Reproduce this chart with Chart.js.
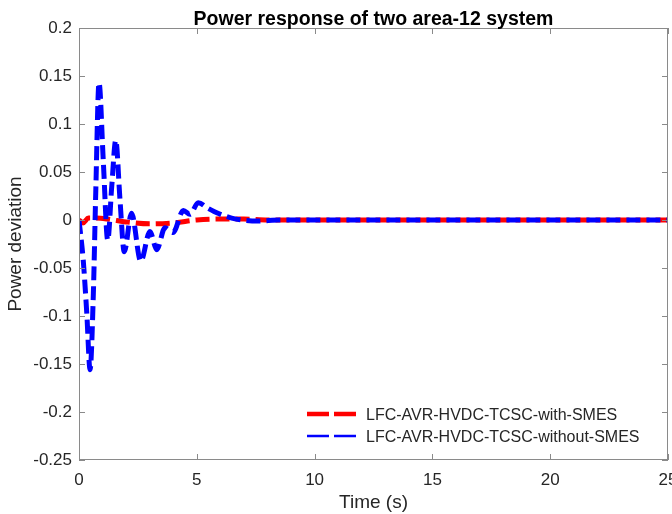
<!DOCTYPE html>
<html>
<head>
<meta charset="utf-8">
<script src="https://cdn.jsdelivr.net/npm/chart.js@4/dist/chart.umd.min.js"></script>
<style>
  html, body { margin: 0; padding: 0; background: #fff; }
  #wrap { width: 672px; height: 514px; }
</style>
</head>
<body>
<div id="wrap"><canvas id="chart" width="672" height="514"></canvas></div>
<script>
// values
const chartTitle = "Power response of two area-12 system";
const seriesNames = ["LFC-AVR-HVDC-TCSC-with-SMES", "LFC-AVR-HVDC-TCSC-without-SMES"];

const redTime   = [0, 0.17, 0.4, 0.7, 1.2, 2.0, 3.0, 4.0, 5.0, 6.0, 7.0, 8.0, 10, 15, 20, 25];
const redValues = [0, -0.003, 0.002, 0.002, 0.001, -0.002, -0.004, -0.003, 0, 0.001, 0.001, 0, 0, 0, 0, 0];

const blueTime   = [0, 0.18, 0.33, 0.47, 0.61, 0.71, 0.85, 1.03, 1.22, 1.39, 1.56, 1.74, 1.92, 2.23, 2.62, 3.01, 3.3, 3.65, 3.99, 4.43, 4.71, 5.06, 5.49, 5.9, 6.48, 7.6, 8.5, 10, 15, 20, 25];
const blueValues = [0, -0.042, -0.097, -0.156, -0.076, 0.028, 0.143, 0.062, -0.021, 0.035, 0.083, 0.021, -0.033, 0.007, -0.043, -0.012, -0.031, -0.008, -0.013, 0.010, 0.006, 0.018, 0.012, 0.007, 0.002, -0.001, 0, 0, 0, 0, 0];

const xTicks = [0, 5, 10, 15, 20, 25];
const yTicks = [-0.25, -0.2, -0.15, -0.1, -0.05, 0, 0.05, 0.1, 0.15, 0.2];

const FONT = "'Liberation Sans', Arial, sans-serif";
const AXIS_COLOR = "#8a8a8a";
const TEXT_COLOR = "#262626";

const pts = (xs, ys) => xs.map((x, i) => ({ x: x, y: ys[i] }));

// box, inside ticks, title and legend (MATLAB look)
const matlabFrame = {
  id: "matlabFrame",
  afterDraw(chart) {
    const { ctx, chartArea: a, scales: { x, y } } = chart;
    ctx.save();
    ctx.strokeStyle = AXIS_COLOR;
    ctx.lineWidth = 1;
    ctx.strokeRect(a.left + 0.5, a.top + 0.5, a.right - a.left - 1, a.bottom - a.top - 1);
    ctx.beginPath();
    xTicks.forEach(v => {
      const px = Math.round(x.getPixelForValue(v)) + 0.5;
      ctx.moveTo(px, a.bottom); ctx.lineTo(px, a.bottom - 6);
      ctx.moveTo(px, a.top); ctx.lineTo(px, a.top + 6);
    });
    yTicks.forEach(v => {
      const py = Math.round(y.getPixelForValue(v)) + 0.5;
      ctx.moveTo(a.left, py); ctx.lineTo(a.left + 6, py);
      ctx.moveTo(a.right, py); ctx.lineTo(a.right - 6, py);
    });
    ctx.stroke();

    // title
    ctx.fillStyle = "#000";
    ctx.font = "bold 19.5px " + FONT;
    ctx.textAlign = "center";
    ctx.textBaseline = "alphabetic";
    ctx.fillText(chartTitle, (a.left + a.right) / 2, 25);

    // legend, bottom right inside the axes
    const rows = [{ y: 414, w: 4.5 }, { y: 436, w: 2.5 }];
    ctx.font = "16px " + FONT;
    ctx.textAlign = "left";
    ctx.textBaseline = "middle";
    chart.data.datasets.forEach((ds, i) => {
      const r = rows[i];
      ctx.strokeStyle = ds.borderColor;
      ctx.lineWidth = r.w;
      ctx.setLineDash([]);
      ctx.beginPath();
      ctx.moveTo(307, r.y); ctx.lineTo(329, r.y);
      ctx.moveTo(334, r.y); ctx.lineTo(356, r.y);
      ctx.stroke();
      ctx.fillStyle = TEXT_COLOR;
      ctx.fillText(ds.label, 366, r.y + 1.5);
    });
    ctx.restore();
  }
};

new Chart(document.getElementById("chart"), {
  type: "line",
  data: {
    datasets: [
      {
        label: seriesNames[0],
        data: pts(redTime, redValues),
        borderColor: "#ff0000",
        borderWidth: 5,
        borderDash: [14, 6],
        pointRadius: 0,
        cubicInterpolationMode: "monotone",
        order: 1
      },
      {
        label: seriesNames[1],
        data: pts(blueTime, blueValues),
        borderColor: "#0000ff",
        borderWidth: 5,
        borderDash: [14, 6],
        pointRadius: 0,
        cubicInterpolationMode: "monotone",
        order: 0
      }
    ]
  },
  options: {
    responsive: false,
    animation: false,
    events: [],
    layout: { padding: { top: 28, right: 4, left: 0, bottom: 0 } },
    plugins: { legend: { display: false }, tooltip: { enabled: false }, title: { display: false } },
    scales: {
      x: {
        type: "linear",
        min: 0, max: 25,
        afterBuildTicks: s => { s.ticks = xTicks.map(v => ({ value: v })); },
        afterFit: s => { s.height = 54; s.paddingLeft = 0; s.paddingRight = 0; },
        grid: { display: false, drawTicks: false },
        border: { display: false },
        ticks: { color: TEXT_COLOR, font: { family: FONT, size: 17 }, padding: 10, maxRotation: 0 },
        title: { display: true, text: "Time (s)", color: TEXT_COLOR, font: { family: FONT, size: 19 }, padding: { top: 0, bottom: 0 } }
      },
      y: {
        min: -0.25, max: 0.2,
        afterBuildTicks: s => { s.ticks = yTicks.map(v => ({ value: v })); },
        afterFit: s => { s.width = 79; s.paddingTop = 0; s.paddingBottom = 0; },
        grid: { display: false, drawTicks: false },
        border: { display: false },
        ticks: {
          color: TEXT_COLOR, font: { family: FONT, size: 17 }, padding: 7,
          callback: v => String(parseFloat(v.toFixed(2)))
        },
        title: { display: true, text: "Power deviation", color: TEXT_COLOR, font: { family: FONT, size: 19 }, padding: { top: 4, bottom: 0 } }
      }
    }
  },
  plugins: [matlabFrame]
});
</script>
</body>
</html>
